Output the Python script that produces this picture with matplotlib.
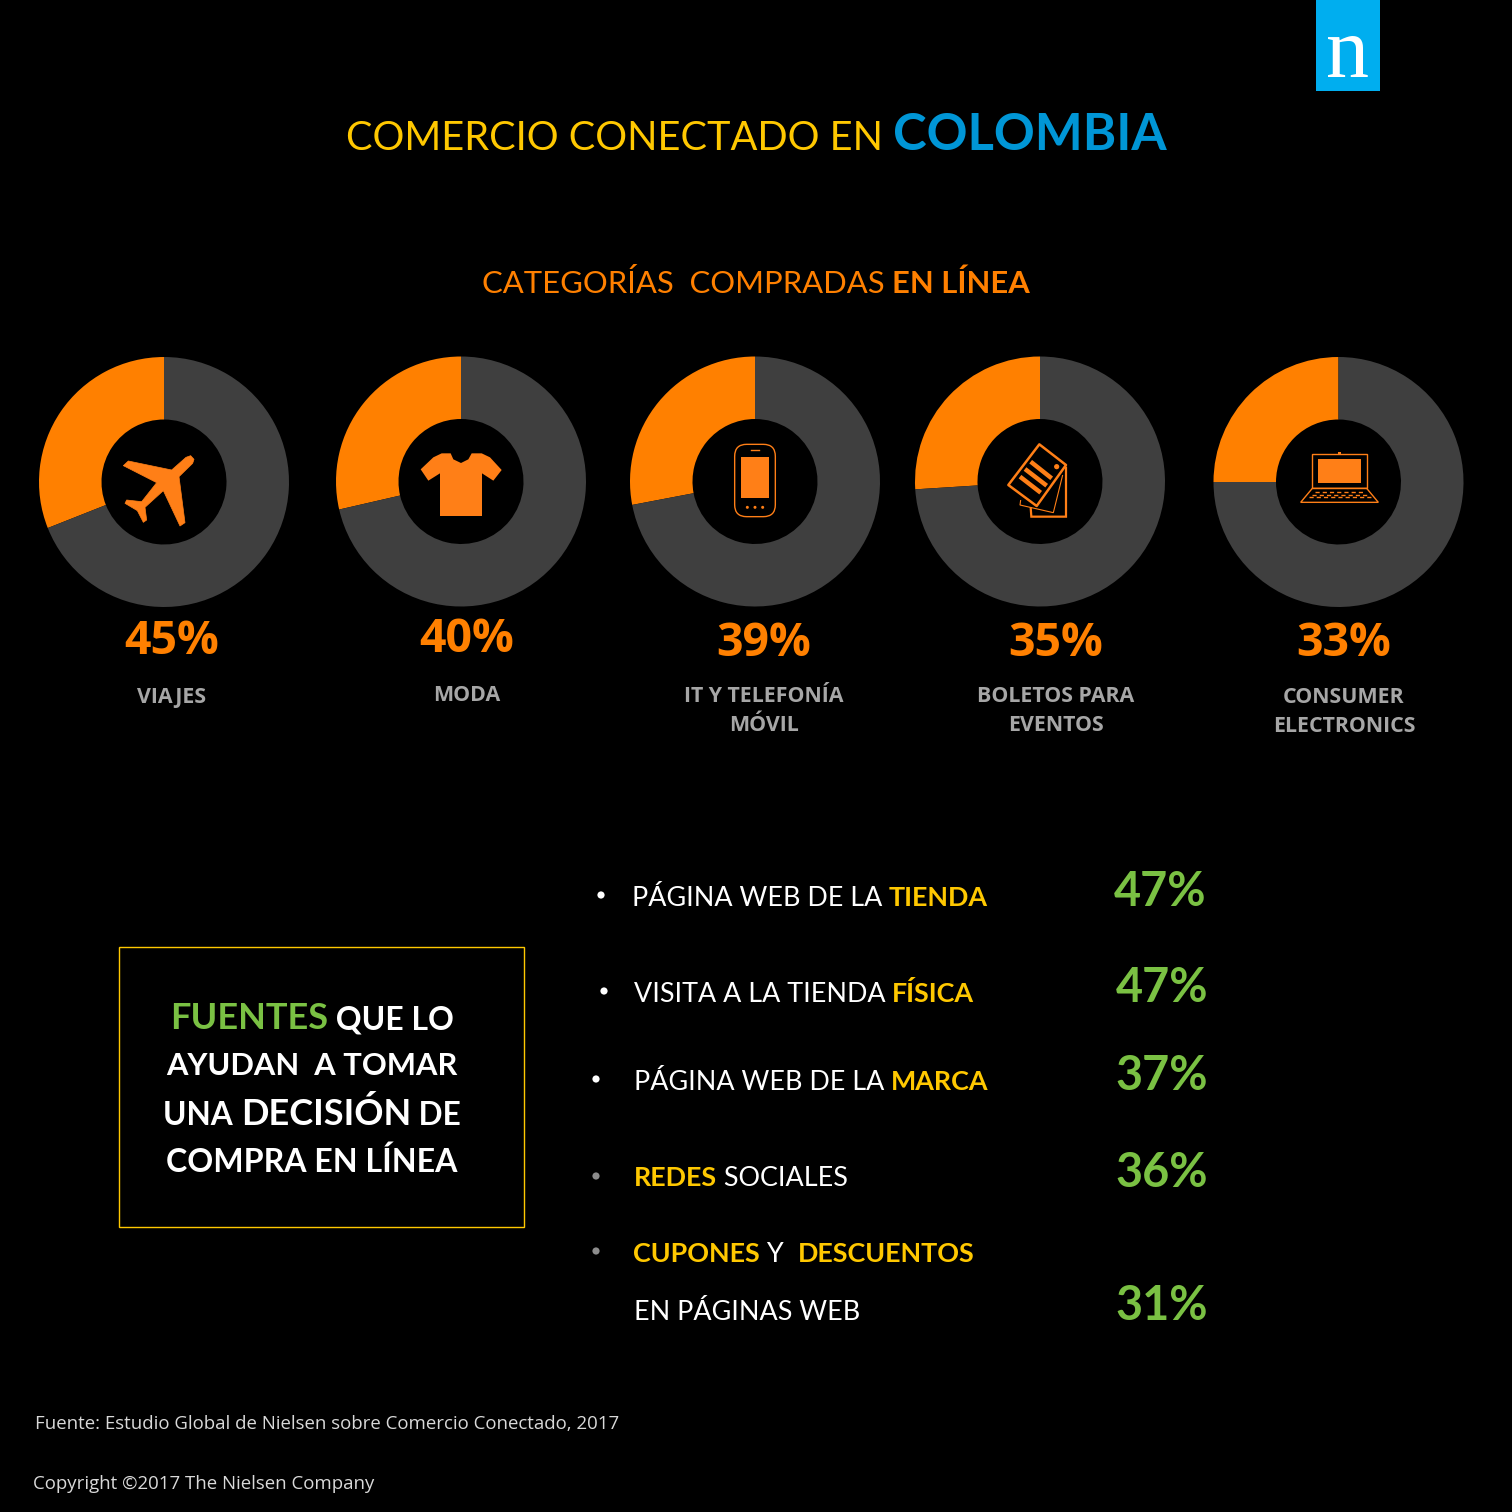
import matplotlib
matplotlib.use("Agg")
import matplotlib.pyplot as plt
from matplotlib.patches import Polygon, Rectangle, FancyBboxPatch, Circle

# ---- data ----
categories = ["VIAJES", "MODA", "IT Y TELEFONÍA\nMÓVIL", "BOLETOS PARA\nEVENTOS", "CONSUMER\nELECTRONICS"]
category_pct = ["45%", "40%", "39%", "35%", "33%"]
# slice shares as drawn in the picture (they do not follow the printed percentages)
drawn_share = [31, 28.6, 28, 26, 25]
source_pct = ["47%", "47%", "37%", "36%", "31%"]

ORANGE = "#FF8000"
ICON = "#FF7F17"
GREY = "#3F3F3F"
YELLOW = "#FFC800"
BLUE = "#0096D6"
GREEN = "#7AC143"
LABEL = "#A6A6A6"
W = "white"
SANS = "Lato"
HUM = "Open Sans"

fig = plt.figure(figsize=(15.12, 15.12), dpi=100, facecolor="black")

# donuts
centers = [(164, 482), (461, 481.5), (755, 481.5), (1040, 481.5), (1338.5, 482)]
R = 125
for (cx, cy), share in zip(centers, drawn_share):
    a = fig.add_axes([(cx - R) / 1512, 1 - (cy + R) / 1512, 2 * R / 1512, 2 * R / 1512])
    a.pie([share, 100 - share], colors=[ORANGE, GREY], startangle=90, counterclock=True,
          radius=1, wedgeprops=dict(width=0.5, linewidth=0))
    a.set_xlim(-1, 1)
    a.set_ylim(-1, 1)
    a.axis("off")

# overlay in pixel coordinates
ax = fig.add_axes([0, 0, 1, 1], zorder=5)
ax.set_xlim(0, 1512)
ax.set_ylim(1512, 0)
ax.axis("off")
ax.patch.set_alpha(0)
rend = fig.canvas.get_renderer()


def width(s, size, weight, family):
    t = ax.text(0, 0, "|" + s + "|", fontsize=size, fontweight=weight, family=family)
    b = ax.text(0, 0, "||", fontsize=size, fontweight=weight, family=family)
    w = t.get_window_extent(rend).width - b.get_window_extent(rend).width
    t.remove()
    b.remove()
    return w


def line(segs, y, x=None, cx=None, family=SANS):
    """segs: (text, colour, weight, size)"""
    ws = [width(s, z, wt, family) for s, c, wt, z in segs]
    if x is None:
        x = cx - sum(ws) / 2
    for (s, c, wt, z), w in zip(segs, ws):
        ax.text(x, y, s, color=c, fontweight=wt, fontsize=z, family=family, va="baseline", ha="left")
        x += w


# logo
ax.add_patch(Rectangle((1316, 0), 64, 91, fc="#00AEEF", ec="none"))
ax.text(1348, 77, "n", color="white", family="Liberation Serif", fontsize=62, ha="center", va="baseline")

# titles
line([("COMERCIO CONECTADO EN ", YELLOW, "normal", 28.6), ("COLOMBIA", BLUE, "bold", 36.5)], 150, x=346)
line([("CATEGORÍAS  COMPRADAS ", ORANGE, "normal", 22.3), ("EN LÍNEA", ORANGE, "bold", 22.3)], 293, x=482)

# donut captions
pct_x = [172, 467, 764, 1056, 1344]
pct_y = [654.5, 652.5, 656.5, 656.5, 656.5]
lab_y = [703, 701, 702, 702, 703]
for p, c, x, y, ly in zip(category_pct, categories, pct_x, pct_y, lab_y):
    ax.text(x, y, p, color=ORANGE, family=HUM, fontweight="bold", fontsize=33.5, ha="center", va="baseline")
    for i, part in enumerate(c.split("\n")):
        ax.text(x, ly + 29 * i, part, color=LABEL, family=HUM, fontweight="bold", fontsize=15.4,
                ha="center", va="baseline")

# framed box
ax.add_patch(Rectangle((119, 947), 405, 280, fc="none", ec=YELLOW, lw=1))
line([("FUENTES", GREEN, "bold", 26), (" QUE LO", W, "bold", 23)], 1029, cx=312)
line([("AYUDAN  A TOMAR", W, "bold", 22.2)], 1075, cx=312)
line([("UNA ", W, "bold", 22.8), ("DECISIÓN", W, "bold", 26), (" DE", W, "bold", 22.8)], 1125, cx=312)
line([("COMPRA EN LÍNEA", W, "bold", 23.1)], 1172, cx=312)

# source list
S = 19.4
rows = [
    (631.5, 905.5, [("PÁGINA WEB DE LA ", W, "normal", S), ("TIENDA", YELLOW, "bold", S)]),
    (633.5, 1001.5, [("VISITA A LA TIENDA ", W, "normal", S), ("FÍSICA", YELLOW, "bold", S)]),
    (633.5, 1089.5, [("PÁGINA WEB DE LA ", W, "normal", S), ("MARCA", YELLOW, "bold", S)]),
    (633.5, 1186.5, [("REDES", YELLOW, "bold", S), (" SOCIALES", W, "normal", S)]),
    (633.5, 1261.5, [("CUPONES", YELLOW, "bold", S), (" Y  ", W, "normal", S), ("DESCUENTOS", YELLOW, "bold", S)]),
    (633.5, 1319.5, [("EN PÁGINAS WEB", W, "normal", S)]),
]
for x, y, segs in rows:
    line(segs, y, x=x)
bullets = [(601, 895, W), (604, 991, W), (596, 1079, W), (596, 1176, "#8C8C8C"), (596, 1251, "#8C8C8C")]
for bx, by, c in bullets:
    ax.add_patch(Circle((bx, by), 3.6, fc=c, ec="none"))

src_x = [1114, 1116, 1115, 1115, 1115]
src_y = [906, 1002, 1090, 1187, 1320]
for p, x, y in zip(source_pct, src_x, src_y):
    ax.text(x, y, p, color=GREEN, family=SANS, fontweight="bold", fontsize=33.7, ha="left", va="baseline")

# footer
ax.text(35, 1429, "Fuente: Estudio Global de Nielsen sobre Comercio Conectado, 2017", color="#D9D9D9",
        family=HUM, fontsize=13.4, va="baseline")
ax.text(33, 1489, "Copyright ©2017 The Nielsen Company", color="#D9D9D9", family=HUM, fontsize=13.4, va="baseline")


def zm(pts, ox, oy):
    return [(ox + px / 3, oy + py / 3) for px, py in pts]


plane = [(282, 118), (272, 107), (258, 112), (215, 150), (85, 123), (70, 137), (170, 188), (125, 245),
         (80, 240), (75, 250), (112, 272), (130, 307), (140, 300), (135, 262), (190, 212), (240, 318),
         (255, 308), (237, 170), (278, 130)]
ax.add_patch(Polygon(zm(plane, 100, 420), fc=ICON, ec=ICON, lw=0.5, joinstyle="round"))

shirt = [(962, 148), (1000, 112), (1025, 100), (1052, 100), (1060, 118), (1083, 129), (1105, 118), (1115, 100),
         (1145, 100), (1170, 112), (1205, 150), (1180, 182), (1146, 160), (1146, 288), (1020, 288), (1020, 160),
         (985, 182)]
ax.add_patch(Polygon(zm(shirt, 100, 420), fc=ICON, ec="none"))

# phone
ox, oy = 690, 420
ax.add_patch(FancyBboxPatch((ox + 134 / 3 + 12, oy + 73 / 3 + 12), (256 - 134) / 3 - 24, (290 - 73) / 3 - 24,
                            boxstyle="round,pad=12", fc="none", ec=ICON, lw=1))
ax.add_patch(Rectangle((ox + 153 / 3, oy + 111 / 3), 84 / 3, 124 / 3, fc=ICON, ec="none"))
ax.plot([ox + 183 / 3, ox + 208 / 3], [oy + 30, oy + 30], color=ICON, lw=1)
for dx in (172, 195, 218):
    ax.add_patch(Circle((ox + dx / 3, oy + 262 / 3), 1.5, fc=ICON, ec="none"))

# tickets
ax.add_patch(Polygon(zm([(992, 240), (990, 255), (1090, 278), (1118, 165)], 690, 420), closed=False,
                     fc="none", ec=ICON, lw=0.8))
ax.add_patch(Polygon(zm([(1022, 262), (1024, 290), (1128, 290), (1128, 140)], 690, 420), closed=False,
                     fc="none", ec=ICON, lw=1.6))
ax.add_patch(Polygon(zm([(1048, 73), (1128, 135), (1040, 258), (955, 195)], 690, 420), fc="black", ec=ICON,
                     lw=1.8, joinstyle="round"))
for a0, a1 in [((1022, 125), (1085, 175)), ((1005, 147), (1070, 197)), ((990, 170), (1052, 218))]:
    p = zm([a0, a1], 690, 420)
    ax.plot([p[0][0], p[1][0]], [p[0][1], p[1][1]], color=ICON, lw=3.2, solid_capstyle="butt")
ax.add_patch(Circle((690 + 1100 / 3, 420 + 140 / 3), 2.6, fc=ICON, ec="none"))

# laptop
ox, oy = 1280, 435
ax.add_patch(Polygon(zm([(97, 160), (97, 57), (260, 57), (260, 160)], ox, oy), fc="none", ec=ICON, lw=1))
ax.add_patch(Rectangle((ox + 114 / 3, oy + 72 / 3), 129 / 3, 73 / 3, fc=ICON, ec="none"))
ax.add_patch(Polygon(zm([(97, 160), (260, 160), (295, 202), (62, 202)], ox, oy), fc="none", ec=ICON, lw=1))
ax.add_patch(Rectangle((ox + 174 / 3, oy + 52 / 3), 3, 3, fc=ICON, ec="none"))
for ky, x0, x1 in [(170, 106, 252), (179, 97, 262), (187, 88, 272)]:
    ax.plot([ox + x0 / 3, ox + x1 / 3], [oy + ky / 3] * 2, color=ICON, lw=1, dashes=(3, 2.2))

fig.savefig("out.png", dpi=100, facecolor="black")
